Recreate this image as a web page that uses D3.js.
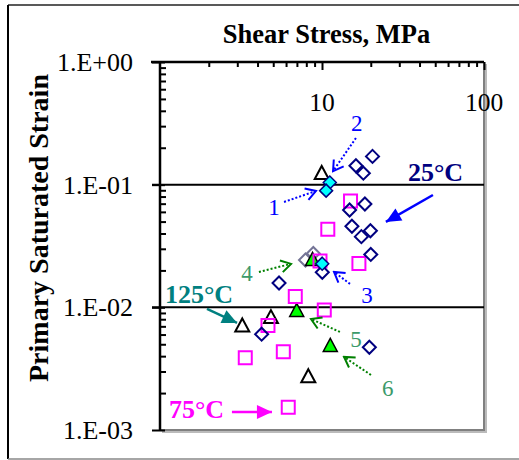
<!DOCTYPE html>
<html><head><meta charset="utf-8">
<script src="https://cdn.jsdelivr.net/npm/d3@7"></script>
<style>body{margin:0;background:#fff}svg{display:block}text{font-family:"Liberation Serif","Times New Roman",serif}</style>
</head><body>
<script>
// ---- data ----
const xTickValues = [10, 100];
const xTickLabels = ["10", "100"];
const yTickValues = [1, 0.1, 0.01, 0.001];
const yTickLabels = ["1.E+00", "1.E-01", "1.E-02", "1.E-03"];
const xMinor = [2,3,4,5,6,7,8,9,20,30,40,50,60,70,80,90];
const yMinor = [0.2,0.3,0.4,0.5,0.6,0.7,0.8,0.9,0.02,0.03,0.04,0.05,0.06,0.07,0.08,0.09,0.002,0.003,0.004,0.005,0.006,0.007,0.008,0.009];

// 25°C open diamonds
const d25X = [20.5, 16.2, 18.0, 18.4, 14.8, 15.3, 17.5, 19.9, 20.0, 10.04, 5.43, 4.24, 19.6];
const d25Y = [0.170, 0.1426, 0.124, 0.0696, 0.0622, 0.0458, 0.0377, 0.0421, 0.0270, 0.0193, 0.0158, 0.00604, 0.00473];
// highlighted cyan diamonds (points 1,2,3)
const cyanX = [11.17, 10.6, 10.03];
const cyanY = [0.1042, 0.0894, 0.0227];
// gray diamonds
const grayX = [7.91, 8.84];
const grayY = [0.0243, 0.0275];
// 75°C open squares
const s75X = [15.0, 10.86, 16.9, 9.72, 6.84, 10.33, 4.64, 5.77, 3.36, 6.19];
const s75Y = [0.0736, 0.0433, 0.0228, 0.0239, 0.01223, 0.00953, 0.0071, 0.00435, 0.00389, 0.00153];
// 125°C open triangles
const t125X = [9.96, 4.84, 3.22, 8.23];
const t125Y = [0.1257, 0.0084, 0.00719, 0.00277];
// highlighted green triangles (points 4,5,6)
const greenX = [8.74, 6.98, 11.25];
const greenY = [0.0248, 0.00953, 0.00494];

// numbered callouts: label, text pos, arrow from, arrow to (data coords)
const calloutLabels = ["1", "2", "3", "4", "5", "6"];
const calloutText = [[5.05, 0.0658], [16.4, 0.318], [18.96, 0.01262], [3.44, 0.01906], [16.2, 0.00553], [25.5, 0.0022]];
const calloutFrom = [[5.83, 0.0723], [16.2, 0.240], [14.89, 0.01552], [4.08, 0.01944], [12.9, 0.0063], [20.06, 0.00281]];
const calloutTo = [[9.18, 0.0888], [11.7, 0.129], [11.86, 0.01944], [6.44, 0.0226], [8.55, 0.00804], [13.67, 0.00394]];

// temperature labels
const tempLabels = ["25°C", "125°C", "75°C"];
const tempText = [[50.2, 0.107], [1.74, 0.01086], [1.68, 0.001255]];
const tempFrom = [[48.4, 0.0824], [1.95, 0.0097], [2.78, 0.001405]];
const tempTo = [[24.8, 0.0497], [2.99, 0.00746], [4.91, 0.001405]];

// ---- layout ----
const W = 519, H = 460;
const svg = d3.select("body").append("svg").attr("width", W).attr("height", H);
const x = d3.scaleLog().domain([1, 100]).range([160, 484]);
const y = d3.scaleLog().domain([1, 0.001]).range([62, 430]);

// outer frame
svg.append("line").attr("x1", 8).attr("y1", 5).attr("x2", 519).attr("y2", 5).attr("stroke", "#222").attr("stroke-width", 1.5);
svg.append("line").attr("x1", 8).attr("y1", 5).attr("x2", 8).attr("y2", 459).attr("stroke", "#000").attr("stroke-width", 2);
svg.append("line").attr("x1", 8).attr("y1", 459).attr("x2", 519).attr("y2", 459).attr("stroke", "#888").attr("stroke-width", 1.5);

// plot area right / bottom gray border with shadow
svg.append("path").attr("d", `M${x(100)+2},${y(1)+2}V${y(0.001)+2}H${x(1)+2}`).attr("fill", "none").attr("stroke", "#bbb").attr("stroke-width", 2);
svg.append("path").attr("d", `M${x(100)},${y(1)}V${y(0.001)}H${x(1)}`).attr("fill", "none").attr("stroke", "#808080").attr("stroke-width", 2);

// gridlines
svg.append("g").selectAll("line").data([0.1, 0.01]).join("line")
  .attr("x1", x(1) - 8).attr("x2", x(100)).attr("y1", d => y(d)).attr("y2", d => y(d))
  .attr("stroke", "#000").attr("stroke-width", 2);

// axes
const gx = svg.append("g").attr("transform", `translate(0,${y(1)})`);
gx.call(d3.axisTop(x).tickValues(xMinor).tickSize(-5).tickSizeOuter(0).tickFormat(""));
const gx2 = svg.append("g").attr("transform", `translate(0,${y(1)})`);
gx2.call(d3.axisTop(x).tickValues(xTickValues).tickSize(-8).tickSizeOuter(0).tickFormat(""));
[gx, gx2].forEach(g => { g.select(".domain").remove(); g.selectAll("line").attr("stroke", "#000").attr("stroke-width", 2); });
svg.append("line").attr("x1", x(1) - 9).attr("x2", x(100)).attr("y1", y(1)).attr("y2", y(1)).attr("stroke", "#000").attr("stroke-width", 2.5);

const gy = svg.append("g").attr("transform", `translate(${x(1)},0)`);
gy.call(d3.axisLeft(y).tickValues(yMinor).tickSize(-6).tickSizeOuter(0).tickFormat(""));
const gy2 = svg.append("g").attr("transform", `translate(${x(1)},0)`);
gy2.call(d3.axisLeft(y).tickValues(yTickValues).tickSize(8).tickSizeOuter(0).tickFormat(""));
const gy3 = svg.append("g").attr("transform", `translate(${x(1)},0)`);
gy3.call(d3.axisLeft(y).tickValues(yTickValues).tickSize(-5).tickSizeOuter(0).tickFormat(""));
[gy, gy2, gy3].forEach(g => { g.select(".domain").remove(); g.selectAll("line").attr("stroke", "#000").attr("stroke-width", 2); });
svg.append("line").attr("x1", x(1)).attr("x2", x(1)).attr("y1", y(1)).attr("y2", y(0.001) + 1).attr("stroke", "#000").attr("stroke-width", 2.5);

// tick labels
svg.append("g").selectAll("text").data(xTickValues).join("text")
  .attr("x", d => x(d)).attr("y", 111).attr("text-anchor", "middle")
  .attr("font-size", 25.5).text((d, i) => xTickLabels[i]);
svg.append("g").selectAll("text").data(yTickValues).join("text")
  .attr("x", 133).attr("y", d => y(d)).attr("dy", "0.34em").attr("text-anchor", "end")
  .attr("font-size", 26).text((d, i) => yTickLabels[i]);

// titles
svg.append("text").attr("x", 326.5).attr("y", 43).attr("text-anchor", "middle")
  .attr("font-size", 26.5).attr("font-weight", "bold").text("Shear Stress, MPa");
svg.append("text").attr("transform", "translate(48,228) rotate(-90)").attr("text-anchor", "middle")
  .attr("font-size", 28).attr("font-weight", "bold").text("Primary Saturated Strain");

// markers
const defs = svg.append("defs");
function vHead(id, color) {
  defs.append("marker").attr("id", id).attr("markerUnits", "userSpaceOnUse")
    .attr("viewBox", "-12 -8 14 16").attr("refX", 0).attr("refY", 0)
    .attr("markerWidth", 14).attr("markerHeight", 16).attr("orient", "auto")
    .append("path").attr("d", "M-10,-6L0,0L-10,6").attr("fill", "none")
    .attr("stroke", color).attr("stroke-width", 2);
}
function fHead(id, color) {
  defs.append("marker").attr("id", id).attr("markerUnits", "userSpaceOnUse")
    .attr("viewBox", "-16 -8 17 16").attr("refX", 0).attr("refY", 0)
    .attr("markerWidth", 17).attr("markerHeight", 16).attr("orient", "auto")
    .append("path").attr("d", "M-15,-7L0,0L-15,7Z").attr("fill", color);
}
vHead("vb", "#0000ff"); vHead("vg", "#008000");
fHead("fb", "#0000ff"); fHead("ft", "#008080"); fHead("fm", "#ff00ff");

// symbols
const diamond = r => `M0,${-r}L${r},0L0,${r}L${-r},0Z`;
const tri = `M0,-6.5L7,6.5L-7,6.5Z`;
const sq = `M-6.5,-6.5H6.5V6.5H-6.5Z`;
function pts(xs, ys, d, fill, stroke, sw) {
  svg.append("g").selectAll("path").data(xs.map((v, i) => [v, ys[i]])).join("path")
    .attr("transform", p => `translate(${x(p[0])},${y(p[1])})`)
    .attr("d", d).attr("fill", fill).attr("stroke", stroke).attr("stroke-width", sw);
}
pts(grayX, grayY, diamond(6.5), "none", "#747496", 2);
pts(t125X, t125Y, tri, "none", "#000", 2);
pts(greenX, greenY, tri, "#00ff00", "#000", 1.5);
pts(s75X, s75Y, sq, "none", "#ff00ff", 2);
pts(d25X, d25Y, diamond(6.5), "none", "#000080", 2);
pts(cyanX, cyanY, diamond(6.5), "#00ffff", "#000080", 1.5);

// numbered callouts
const calloutColor = ["#0000ff", "#0000ff", "#0000ff", "#3c9a6a", "#3c9a6a", "#3c9a6a"];
const calloutArrow = ["#0000ff", "#0000ff", "#0000ff", "#008000", "#008000", "#008000"];
calloutLabels.forEach((lab, i) => {
  svg.append("line")
    .attr("x1", x(calloutFrom[i][0])).attr("y1", y(calloutFrom[i][1]))
    .attr("x2", x(calloutTo[i][0])).attr("y2", y(calloutTo[i][1]))
    .attr("stroke", calloutArrow[i]).attr("stroke-width", 2).attr("stroke-dasharray", "2,2")
    .attr("marker-end", i < 3 ? "url(#vb)" : "url(#vg)");
  svg.append("text").attr("x", x(calloutText[i][0])).attr("y", y(calloutText[i][1]))
    .attr("dy", "0.34em").attr("text-anchor", "middle").attr("font-size", 23)
    .attr("fill", calloutColor[i]).text(lab);
});

// temperature labels
const tempColor = ["#000080", "#008080", "#ff00ff"];
const tempHead = ["url(#fb)", "url(#ft)", "url(#fm)"];
const tempArrowColor = ["#0000ff", "#008080", "#ff00ff"];
tempLabels.forEach((lab, i) => {
  svg.append("line")
    .attr("x1", x(tempFrom[i][0])).attr("y1", y(tempFrom[i][1]))
    .attr("x2", x(tempTo[i][0])).attr("y2", y(tempTo[i][1]))
    .attr("stroke", tempArrowColor[i]).attr("stroke-width", 2.5)
    .attr("marker-end", tempHead[i]);
  svg.append("text").attr("x", x(tempText[i][0])).attr("y", y(tempText[i][1]))
    .attr("text-anchor", "middle").attr("font-size", 26).attr("font-weight", "bold")
    .attr("fill", tempColor[i]).text(lab);
});
</script>
</body></html>
